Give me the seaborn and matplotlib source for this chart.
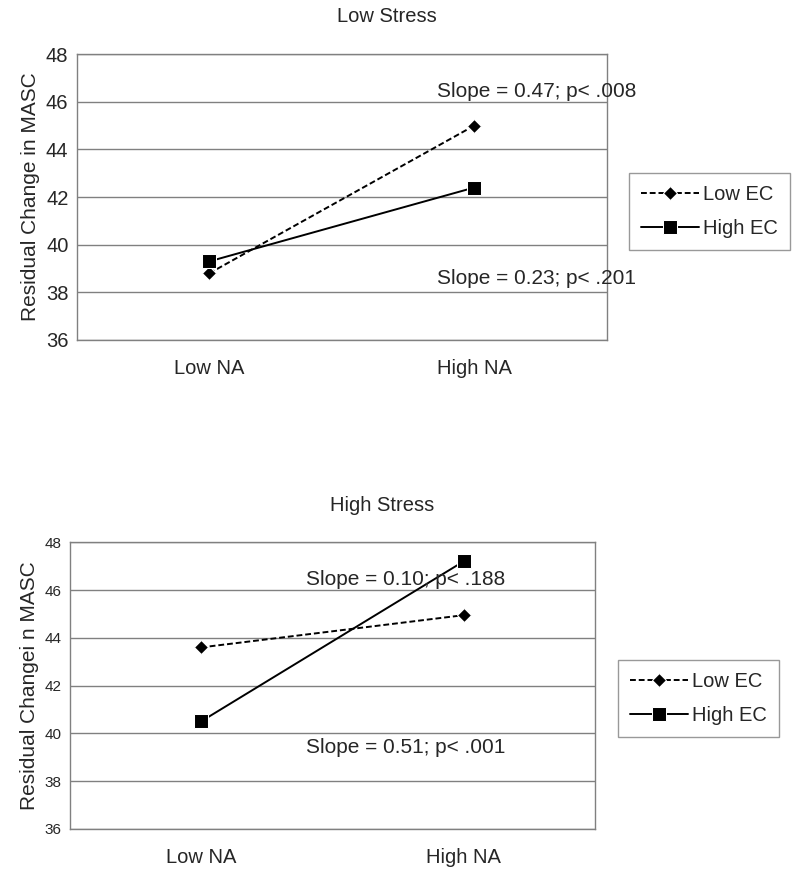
import pandas as pd
import seaborn as sns
import matplotlib.pyplot as plt

# data
na_levels = ["Low NA", "High NA"]
groups = ["Low EC", "High EC"]

low_stress_low_ec = [38.8, 45.0]
low_stress_high_ec = [39.3, 42.4]
high_stress_low_ec = [43.6, 44.95]
high_stress_high_ec = [40.5, 47.2]

low_stress_notes = ["Slope = 0.47; p< .008", "Slope = 0.23; p< .201"]
high_stress_notes = ["Slope = 0.10; p< .188", "Slope = 0.51; p< .001"]

yticks = [36, 38, 40, 42, 44, 46, 48]

sns.set_style("white")
plt.rcParams['font.family'] = ['Liberation Sans', 'DejaVu Sans']


def make_df(low_ec, high_ec):
    rows = []
    for x, v in zip(na_levels, low_ec):
        rows.append({"na": x, "value": v, "group": "Low EC"})
    for x, v in zip(na_levels, high_ec):
        rows.append({"na": x, "value": v, "group": "High EC"})
    return pd.DataFrame(rows)


def draw(ax, df, ylabel, notes, note_pos, tick_size, legend_anchor):
    sns.lineplot(data=df, x="na", y="value", hue="group", style="group",
                 hue_order=groups, style_order=groups,
                 palette={"Low EC": "black", "High EC": "black"},
                 dashes={"Low EC": (3, 1.5), "High EC": ""},
                 markers={"Low EC": "D", "High EC": "s"},
                 markersize=7.5, linewidth=1.4, ax=ax)
    for line in ax.lines:
        if line.get_marker() == "s":
            line.set_markersize(10)
    ax.set_xlim(-0.5, 1.5)
    ax.set_ylim(36, 48)
    ax.set_yticks(yticks)
    ax.yaxis.grid(True, color="#808080", linewidth=1)
    ax.set_axisbelow(True)
    for sp in ax.spines.values():
        sp.set_color("#808080")
        sp.set_linewidth(1)
    ax.tick_params(axis="y", labelsize=tick_size, length=0, pad=6)
    ax.tick_params(axis="x", labelsize=14.5, length=0, pad=14)
    ax.set_xlabel("")
    ax.set_ylabel(ylabel, fontsize=15, labelpad=4)
    for txt, (x, y) in zip(notes, note_pos):
        ax.text(x, y, txt, fontsize=15, va="center", ha="left")
    leg = ax.legend(loc="center left", bbox_to_anchor=legend_anchor,
                    fontsize=14.5, frameon=True, fancybox=False,
                    handlelength=2.9, handletextpad=0.2, borderpad=0.6,
                    labelspacing=0.75, borderaxespad=0)
    leg.get_frame().set_edgecolor("#808080")
    leg.get_frame().set_linewidth(1)
    leg.set_title(None)


fig = plt.figure(figsize=(7.92, 8.74), dpi=100)
ax1 = fig.add_axes([0.097, 0.611, 0.669, 0.327])
ax2 = fig.add_axes([0.088, 0.0515, 0.663, 0.328])

draw(ax1, make_df(low_stress_low_ec, low_stress_high_ec),
     "Residual Change in MASC", low_stress_notes,
     [(0.858, 46.45), (0.858, 38.6)], 14.5, (1.042, 0.45))
draw(ax2, make_df(high_stress_low_ec, high_stress_high_ec),
     "Residual Changei n MASC", high_stress_notes,
     [(0.399, 46.45), (0.399, 39.4)], 11, (1.044, 0.456))

fig.text(0.489, 0.981, "Low Stress", fontsize=14.5, ha="center", va="center")
fig.text(0.483, 0.422, "High Stress", fontsize=14.5, ha="center", va="center")

fig.savefig("out.png", dpi=100)
